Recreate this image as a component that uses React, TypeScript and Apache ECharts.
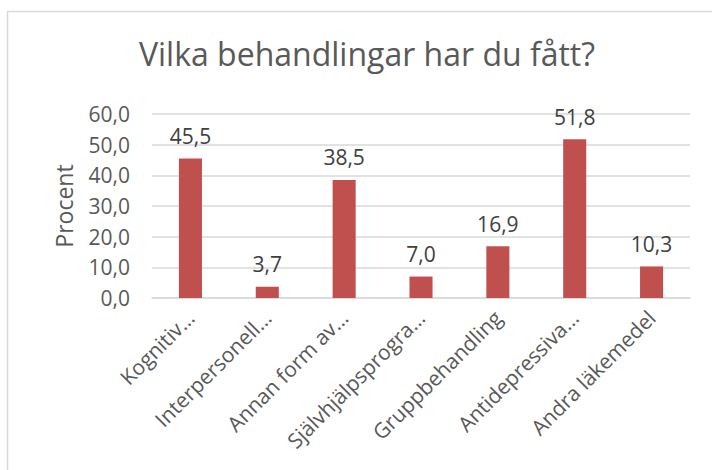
import React, { useEffect, useRef } from "react";
import * as echarts from "echarts";

const categories = [
  "Kognitiv…",
  "Interpersonell…",
  "Annan form av…",
  "Självhjälpsprogra…",
  "Gruppbehandling",
  "Antidepressiva…",
  "Andra läkemedel",
];
const values = [45.5, 3.7, 38.5, 7.0, 16.9, 51.8, 10.3];
const titleText = "Vilka behandlingar har du fått?";
const yAxisName = "Procent";

const FONT = "'Open Sans', 'Noto Sans', sans-serif";
const fmt = (v: number) => v.toFixed(1).replace(".", ",");

export default function App() {
  const ref = useRef<HTMLDivElement>(null);
  useEffect(() => {
    if (!ref.current) return;
    const chart = echarts.init(ref.current, undefined, { renderer: "svg" });
    chart.setOption({
      animation: false,
      backgroundColor: "#ffffff",
      textStyle: { fontFamily: FONT },
      title: {
        text: titleText,
        left: 362,
        textAlign: "center",
        top: 32,
        textStyle: { fontFamily: FONT, fontSize: 32, fontWeight: "normal", color: "#595959" },
      },
      graphic: [
        {
          type: "rect",
          shape: { x: 7.5, y: 11.5, width: 730, height: 500 },
          style: { fill: "none", stroke: "#d9d9d9", lineWidth: 1.5 },
          silent: true,
        },
      ],
      grid: { left: 152, right: 22, top: 114, bottom: 172 },
      xAxis: {
        type: "category",
        data: categories,
        axisTick: { show: false },
        axisLine: { lineStyle: { color: "#d9d9d9", width: 1.5 } },
        axisLabel: {
          interval: 0,
          rotate: 45,
          margin: 16,
          fontFamily: FONT,
          fontSize: 21,
          color: "#595959",
        },
      },
      yAxis: {
        type: "value",
        min: 0,
        max: 60,
        interval: 10,
        name: yAxisName,
        nameLocation: "middle",
        nameRotate: 90,
        nameGap: 77,
        nameTextStyle: { fontFamily: FONT, fontSize: 23, color: "#595959" },
        axisLine: { show: false },
        axisTick: { show: false },
        splitLine: { lineStyle: { color: "#d9d9d9", width: 1.5 } },
        axisLabel: {
          margin: 22,
          fontFamily: FONT,
          fontSize: 21,
          color: "#595959",
          formatter: (v: number) => fmt(v),
        },
      },
      series: [
        {
          type: "bar",
          data: values,
          barWidth: "30%",
          itemStyle: { color: "#C0504D" },
          label: {
            show: true,
            position: "top",
            distance: 12,
            fontFamily: FONT,
            fontSize: 21,
            color: "#404040",
            formatter: (p: any) => fmt(p.value),
          },
        },
      ],
    });
    return () => chart.dispose();
  }, []);
  return (
    <div
      ref={ref}
      style={{ position: "absolute", left: 0, top: 0, width: 712, height: 470 }}
    />
  );
}
